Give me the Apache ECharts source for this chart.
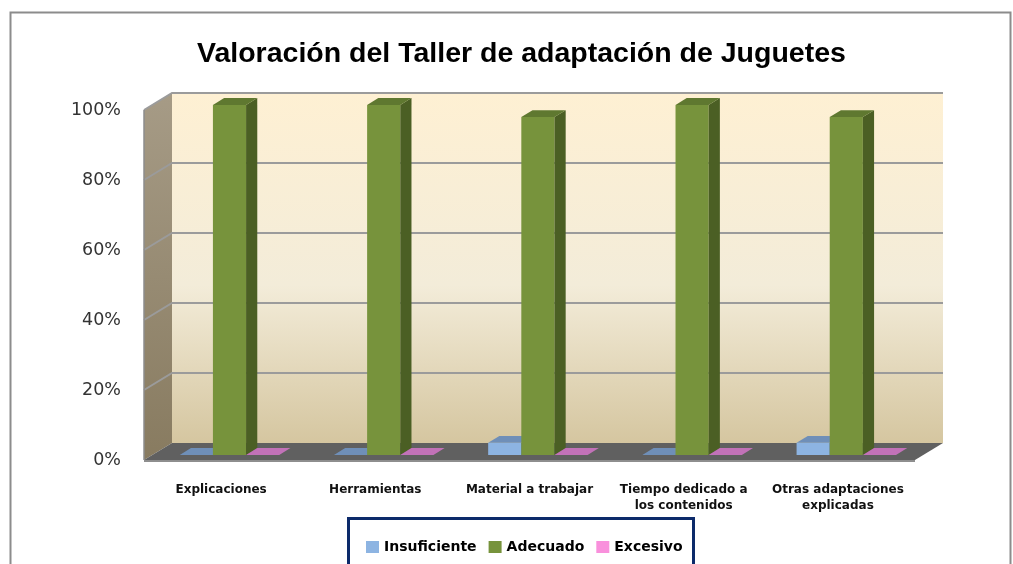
<!DOCTYPE html>
<html>
<head>
<meta charset="utf-8">
<script src="https://cdn.jsdelivr.net/npm/echarts@6/dist/echarts.min.js"></script>
<style>
  html, body { margin: 0; padding: 0; background: #fff; }
  #chart { width: 1013px; height: 564px; }
</style>
</head>
<body>
<div id="chart"></div>
<script>
window.onload = () => {
    const categories = ["Explicaciones", "Herramientas", "Material a trabajar", "Tiempo dedicado a\nlos contenidos", "Otras adaptaciones\nexplicadas"];
    const insuficiente = [0, 0, 3.45, 0, 3.45];
    const adecuado = [100, 100, 96.55, 100, 96.55];
    const excesivo = [0, 0, 0, 0, 0];
    const yTicks = [0, 20, 40, 60, 80, 100];

    // depth of the 3d box (back plane -> front plane), in pixels
    const DX = -28, DY = 17;
    const back = { left: 172, top: 93, width: 771, height: 350 };

    const wallsRender = (params, api) => {
        const cs = params.coordSys;
        const bx = cs.x, by = cs.y, bw = cs.width, bh = cs.height;
        const kids = [];
        kids.push({
            type: 'polygon',
            shape: { points: [[bx + DX, by + DY], [bx, by], [bx, by + bh], [bx + DX, by + bh + DY]] },
            style: {
                fill: new echarts.graphic.LinearGradient(0, 0, 0, 1, [
                    { offset: 0, color: '#a69b86' }, { offset: 1, color: '#887b60' }
                ])
            }
        });
        kids.push({
            type: 'rect',
            shape: { x: bx, y: by, width: bw, height: bh },
            style: {
                fill: new echarts.graphic.LinearGradient(0, 0, 0, 1, [
                    { offset: 0, color: '#fef0d3' },
                    { offset: 0.55, color: '#f3ecd9' },
                    { offset: 1, color: '#d5c6a0' }
                ])
            }
        });
        kids.push({
            type: 'polygon',
            shape: { points: [[bx, by + bh], [bx + bw, by + bh], [bx + bw + DX, by + bh + DY], [bx + DX, by + bh + DY]] },
            style: { fill: '#606060' }
        });
        kids.push({
            type: 'line',
            shape: { x1: bx + DX, y1: by + bh + DY + 1, x2: bx + bw + DX, y2: by + bh + DY + 1 },
            style: { stroke: '#8e8e8e', lineWidth: 2 }
        });
        yTicks.forEach(t => {
            if (t === 0) return;
            const y = api.coord([0, t])[1];
            kids.push({
                type: 'polyline',
                shape: { points: [[bx + DX, y + DY], [bx, y], [bx + bw, y]] },
                style: { stroke: '#9b9b9b', lineWidth: 2, fill: null }
            });
        });
        kids.push({
            type: 'line',
            shape: { x1: bx + DX, y1: by + DY, x2: bx + DX, y2: by + bh + DY },
            style: { stroke: '#8c8c8c', lineWidth: 1.5 }
        });
        return { type: 'group', children: kids };
    };

    const barRender = (colors, slot) => (params, api) => {
        const idx = api.value(0), val = api.value(1);
        const base = api.coord([idx, 0]);
        const topPt = api.coord([idx, val]);
        const catW = api.size([1, 0])[0];
        const bw = catW * 0.215;
        const fx = DX * 0.7, fy = DY * 0.7;
        const bdx = -DX * 0.4, bdy = -DY * 0.4;
        const x0 = base[0] + slot * bw - bw / 2 + fx;
        const yBot = base[1] + fy;
        const yTop = topPt[1] + fy;
        const kids = [];
        if (yBot - yTop > 0.5) {
            kids.push({
                type: 'rect',
                shape: { x: x0, y: yTop, width: bw, height: yBot - yTop },
                style: { fill: colors.front }
            });
            kids.push({
                type: 'polygon',
                shape: { points: [[x0 + bw, yTop], [x0 + bw + bdx, yTop + bdy], [x0 + bw + bdx, yBot + bdy], [x0 + bw, yBot]] },
                style: { fill: colors.side }
            });
        }
        kids.push({
            type: 'polygon',
            shape: { points: [[x0, yTop], [x0 + bw, yTop], [x0 + bw + bdx, yTop + bdy], [x0 + bdx, yTop + bdy]] },
            style: { fill: colors.top }
        });
        return { type: 'group', children: kids };
    };

    const barSeries = (name, values, colors, slot) => ({
        name: name,
        type: 'custom',
        xAxisIndex: 0,
        yAxisIndex: 0,
        itemStyle: { color: colors.legend },
        renderItem: barRender(colors, slot),
        encode: { x: 0, y: 1 },
        data: values.map((v, i) => [i, v]),
        z: 3
    });

    const option = {
        animation: false,
        title: {
            text: 'Valoración del Taller de adaptación de Juguetes',
            left: 192,
            top: 35,
            textStyle: { fontFamily: 'Liberation Sans', fontWeight: 'bold', fontSize: 28.5, color: '#000' }
        },
        legend: {
            data: ['Insuficiente', 'Adecuado', 'Excesivo'],
            left: 361,
            top: 535,
            itemWidth: 13,
            itemHeight: 12,
            itemGap: 12,
            icon: 'rect',
            textStyle: { fontFamily: 'DejaVu Sans', fontWeight: 'bold', fontSize: 14, color: '#000' }
        },
        graphic: [
            { type: 'rect', left: 8, top: 10, shape: { width: 1000, height: 600 }, style: { fill: null, stroke: '#8c8c8c', lineWidth: 2 }, z: -1 },
            { type: 'rect', left: 347, top: 517, shape: { width: 345, height: 60 }, style: { fill: '#fff', stroke: '#0c2a6a', lineWidth: 3 }, z: -1 }
        ],
        grid: [
            { left: back.left, top: back.top, width: back.width, height: back.height },
            { left: back.left + DX, top: back.top + DY, width: back.width, height: back.height }
        ],
        xAxis: [
            { type: 'category', gridIndex: 0, data: categories, show: false },
            {
                type: 'category', gridIndex: 1, data: categories,
                axisLine: { show: false }, axisTick: { show: false },
                axisLabel: { margin: 22, fontFamily: 'DejaVu Sans', fontWeight: 'bold', fontSize: 12, color: '#111', lineHeight: 16, interval: 0 }
            }
        ],
        yAxis: [
            { type: 'value', gridIndex: 0, min: 0, max: 100, interval: 20, show: false },
            {
                type: 'value', gridIndex: 1, min: 0, max: 100, interval: 20,
                axisLine: { show: false }, axisTick: { show: false }, splitLine: { show: false },
                axisLabel: { formatter: '{value}%', margin: 23, fontFamily: 'DejaVu Sans', fontSize: 17.5, color: '#333' }
            }
        ],
        series: [
            {
                name: 'walls', type: 'custom', xAxisIndex: 0, yAxisIndex: 0, silent: true, z: 1,
                renderItem: wallsRender, data: [[0, 0]]
            },
            barSeries('Insuficiente', insuficiente, { front: '#8db4e2', side: '#6a89b0', top: '#6f8fb8', legend: '#8db4e2' }, -1),
            barSeries('Adecuado', adecuado, { front: '#77933c', side: '#4b5f24', top: '#5f7830', legend: '#77933c' }, 0),
            barSeries('Excesivo', excesivo, { front: '#f990dc', side: '#b55fa2', top: '#c272b8', legend: '#f990dc' }, 1)
        ]
    };

    const myChart = echarts.init(document.querySelector('#chart'));
    myChart.setOption(option);
};
</script>
</body>
</html>
